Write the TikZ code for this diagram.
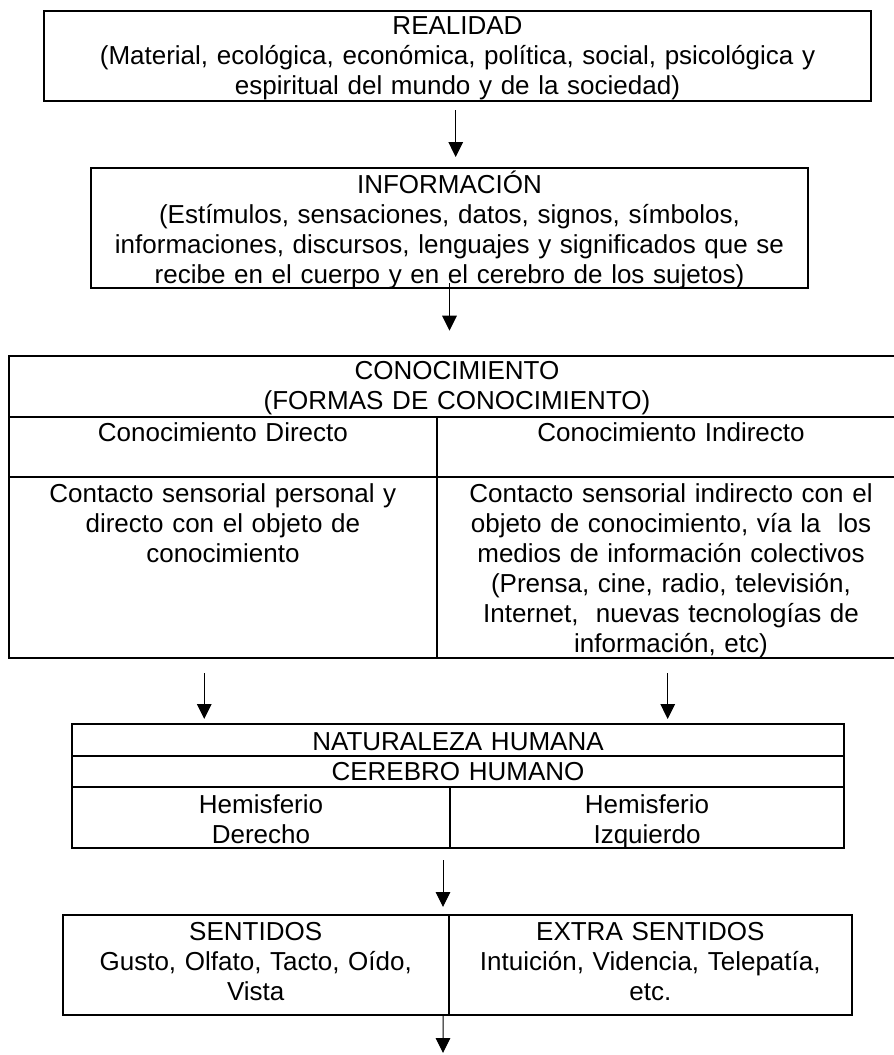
\documentclass[tikz,border=0pt]{standalone}
\usepackage{fontspec}
\setmainfont{Liberation Sans}
\usetikzlibrary{arrows.meta,fit}
\begin{document}
\begin{tikzpicture}[x=0.5pt,y=-0.5pt,
  box/.style={draw, line width=1pt, inner sep=0pt, outer sep=0pt},
  txt/.style={font=\fontsize{13}{15}\selectfont, inner sep=0pt, align=center, anchor=base, text width=#1},
  txt/.default=230pt,
  arr/.style={line width=0.5pt, -{Triangle[length=7.5pt,width=7.3pt]}}]
\useasboundingbox (0,0) rectangle (894,1055);

% REALIDAD
\coordinate (r1) at (44,11); \coordinate (r2) at (871,101);
\node[box, fit=(r1)(r2)] (realidad) {};
\node[txt=430pt] (realidadT) at (457.5,34) {REALIDAD\\(Material, ecológica, económica, política, social, psicológica y\\espiritual del mundo y de la sociedad)};

% INFORMACION
\coordinate (i1) at (91,168); \coordinate (i2) at (808,288);
\node[box, fit=(i1)(i2)] (info) {};
\node[txt=430pt] (infoT) at (449.5,193) {INFORMACIÓN\\(Estímulos, sensaciones, datos, signos, símbolos,\\informaciones, discursos, lenguajes y significados que se\\recibe en el cuerpo y en el cerebro de los sujetos)};

% CONOCIMIENTO table
\coordinate (c1) at (8.7,356); \coordinate (c2) at (905,416.7);
\coordinate (c3) at (437,477.3); \coordinate (c4) at (8.7,416.7);
\coordinate (c5) at (905,477.3); \coordinate (c6) at (437,416.7);
\coordinate (c7) at (8.7,477.3); \coordinate (c8) at (437,657.7);
\coordinate (c9) at (905,657.7);
\node[box, fit=(c1)(c2)] (conocHead) {};
\node[box, fit=(c4)(c3)] (dirHead) {};
\node[box, fit=(c6)(c5)] (indHead) {};
\node[box, fit=(c7)(c8)] (dirBody) {};
\node[box, fit=(c3)(c9)] (indBody) {};
\node[txt=430pt] (conocT) at (457,379) {CONOCIMIENTO\\(FORMAS DE CONOCIMIENTO)};
\node[txt] (dirHeadT) at (222.9,441.7) {Conocimiento Directo};
\node[txt] (indHeadT) at (671,441.7) {Conocimiento Indirecto};
\node[txt] (dirBodyT) at (222.9,502.7) {Contacto sensorial personal y\\directo con el objeto de\\conocimiento};
\node[txt] (indBodyT) at (671,502.7) {Contacto sensorial indirecto con el\\objeto de conocimiento, vía la\ \ los\\medios de información colectivos\\(Prensa, cine, radio, televisión,\\Internet,\ \ nuevas tecnologías de\\información, etc)};

% NATURALEZA HUMANA
\coordinate (n1) at (72,724.3); \coordinate (n2) at (844,755.7);
\coordinate (n3) at (72,755.7); \coordinate (n4) at (844,787);
\coordinate (n5) at (72,787); \coordinate (n6) at (450.4,847.7);
\coordinate (n7) at (450.4,787); \coordinate (n8) at (844,847.7);
\node[box, fit=(n1)(n2)] (natur) {};
\node[box, fit=(n3)(n4)] (cerebro) {};
\node[box, fit=(n5)(n6)] (hder) {};
\node[box, fit=(n7)(n8)] (hizq) {};
\node[txt=430pt] (naturT) at (458,750) {NATURALEZA HUMANA};
\node[txt=430pt] (cerebroT) at (458,780) {CEREBRO HUMANO};
\node[txt] (hderT) at (261,813) {Hemisferio\\Derecho};
\node[txt] (hizqT) at (647,813) {Hemisferio\\Izquierdo};

% SENTIDOS
\coordinate (s1) at (62.7,915); \coordinate (s2) at (448.7,1015);
\coordinate (s3) at (852,1015);
\node[box, fit=(s1)(s2)] (sent) {};
\coordinate (s4) at (448.7,915);
\node[box, fit=(s4)(s3)] (extra) {};
\node[txt] (sentT) at (255.7,940) {SENTIDOS\\Gusto, Olfato, Tacto, Oído,\\Vista};
\node[txt] (extraT) at (650.3,940) {EXTRA SENTIDOS\\Intuición, Videncia, Telepatía,\\etc.};

% arrows
\draw[arr, shorten <=4.5pt, shorten >=5.5pt] ([xshift=-0.9pt]realidad.south) -- ([xshift=-0.9pt]realidad.south |- info.north);
\draw[arr, shorten <=-2.5pt, shorten >=12.65pt] (info.south) -- (info.south |- conocHead.north);
\draw[arr, shorten <=7.65pt, shorten >=2.65pt] ([xshift=-9.3pt]dirBody.south) -- ([xshift=-9.3pt]dirBody.south |- natur.north);
\draw[arr, shorten <=7.65pt, shorten >=2.65pt] ([xshift=-1.65pt]indBody.south) -- ([xshift=-1.65pt]indBody.south |- natur.north);
\draw[arr, shorten <=6.15pt, shorten >=4pt] ([xshift=-3.7pt]hder.south east) -- ([xshift=-3.7pt]hder.south east |- sent.north);
\coordinate (fin) at (443,1053);
\draw[arr] ([xshift=-2.85pt]sent.south east) -- (fin);
\end{tikzpicture}
\end{document}
